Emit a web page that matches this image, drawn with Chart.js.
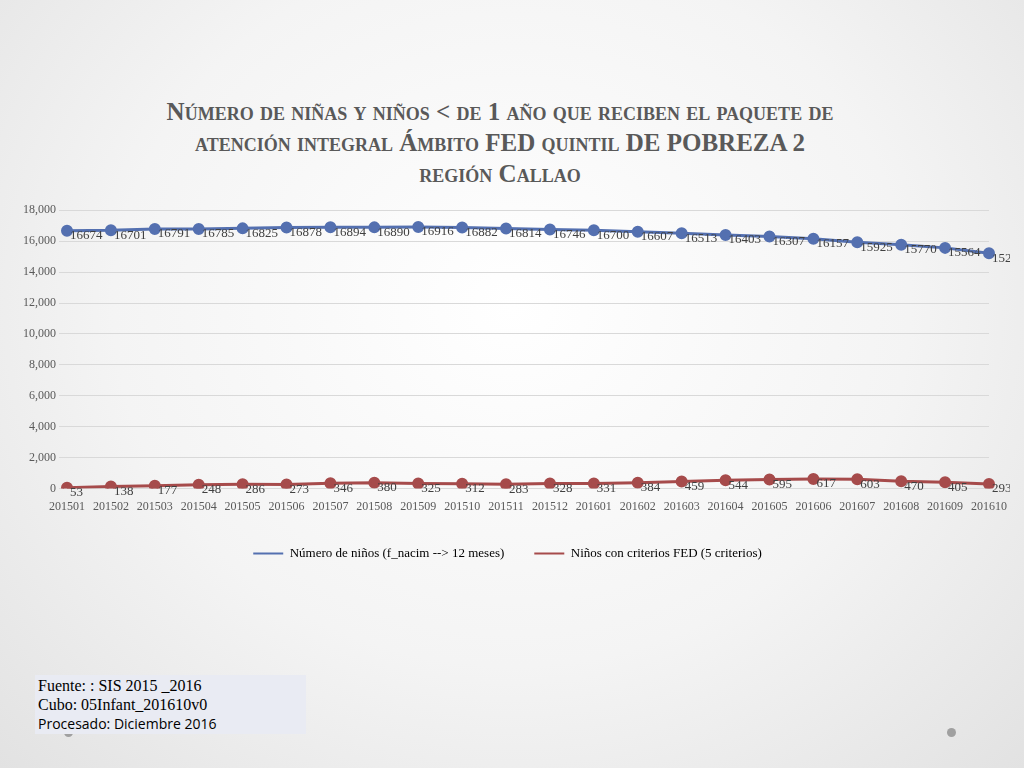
<!DOCTYPE html>
<html><head><meta charset="utf-8">
<script src="https://cdn.jsdelivr.net/npm/chart.js@4"></script>
<style>
body{margin:0;width:1024px;height:768px;background:radial-gradient(ellipse at 50% 40%,#ffffff 0%,#f4f4f4 55%,#e2e2e2 100%);font-family:"Liberation Serif",serif;position:relative;overflow:hidden}
#title{position:absolute;top:96px;left:0;width:1000px;text-align:center;font-variant:small-caps;font-weight:bold;color:#595959;font-size:25px;line-height:31px}
#wrap{position:absolute;left:20px;top:200px;width:990px;height:370px}
#src{position:absolute;left:35px;top:675px;width:265px;background:#e9ebf3;font-size:16px;line-height:19px;padding:1px 3px;color:#000}
.dot{position:absolute;width:9px;height:9px;border-radius:50%;background:#a0a0a0;top:728px}
</style></head><body>
<div id="title">Número de niñas y niños &lt; de 1 año que reciben el paquete de<br>atención integral Ámbito FED quintil DE POBREZA 2<br>región Callao</div>
<div id="wrap"><canvas id="c" width="990" height="370"></canvas></div>
<div class="dot" style="left:64px"></div><div class="dot" style="left:947px"></div>
<div id="src">Fuente: : SIS 2015 _2016<br>Cubo: 05Infant_201610v0<br><span style="font-family:'Open Sans',sans-serif;font-size:14px">Procesado: Diciembre 2016</span></div>
<script>
const periods=['201501','201502','201503','201504','201505','201506','201507','201508','201509','201510','201511','201512','201601','201602','201603','201604','201605','201606','201607','201608','201609','201610'];
const ninos=[16674,16701,16791,16785,16825,16878,16894,16890,16916,16882,16814,16746,16700,16607,16513,16403,16307,16157,15925,15770,15564,15220];
const fed=[53,138,177,248,286,273,346,380,325,312,283,328,331,384,459,544,595,617,603,470,405,293];
const labelPlugin={id:'lbl',afterDatasetsDraw(chart){
  const ctx=chart.ctx;ctx.save();ctx.font='13px "Liberation Serif"';ctx.fillStyle='#404040';ctx.textBaseline='middle';
  chart.data.datasets.forEach((ds,i)=>{chart.getDatasetMeta(i).data.forEach((p,j)=>{ctx.fillText(ds.data[j],p.x+3,p.y+5);});});
  ctx.restore();}};
new Chart(document.getElementById('c'),{type:'line',
data:{labels:periods,datasets:[
 {label:'Número de niños (f_nacim --> 12 meses)',data:ninos,borderColor:'#5470b0',backgroundColor:'#5470b0',borderWidth:3,pointRadius:4.5},
 {label:'Niños con criterios FED (5 criterios)',data:fed,borderColor:'#a64b4b',backgroundColor:'#a64b4b',borderWidth:3,pointRadius:4.5}]},
options:{animation:false,responsive:false,maintainAspectRatio:false,
 layout:{padding:{right:15}},
 scales:{y:{min:0,max:18000,ticks:{stepSize:2000,color:'#595959',font:{family:'Liberation Serif',size:12}},grid:{color:'#d9d9d9'},border:{display:false}},
  x:{ticks:{color:'#595959',font:{family:'Liberation Serif',size:12},maxRotation:0,autoSkip:false},grid:{display:false},border:{color:'#d9d9d9'}}},
 plugins:{legend:{position:'bottom',labels:{color:'#595959',font:{family:'Liberation Serif',size:13},boxWidth:30,boxHeight:2,padding:30,generateLabels(chart){return chart.data.datasets.map((d,i)=>({text:d.label,fillStyle:d.borderColor,strokeStyle:d.borderColor,lineWidth:0,datasetIndex:i}));}}},tooltip:{enabled:false}}},
plugins:[labelPlugin]});
</script>
</body></html>
